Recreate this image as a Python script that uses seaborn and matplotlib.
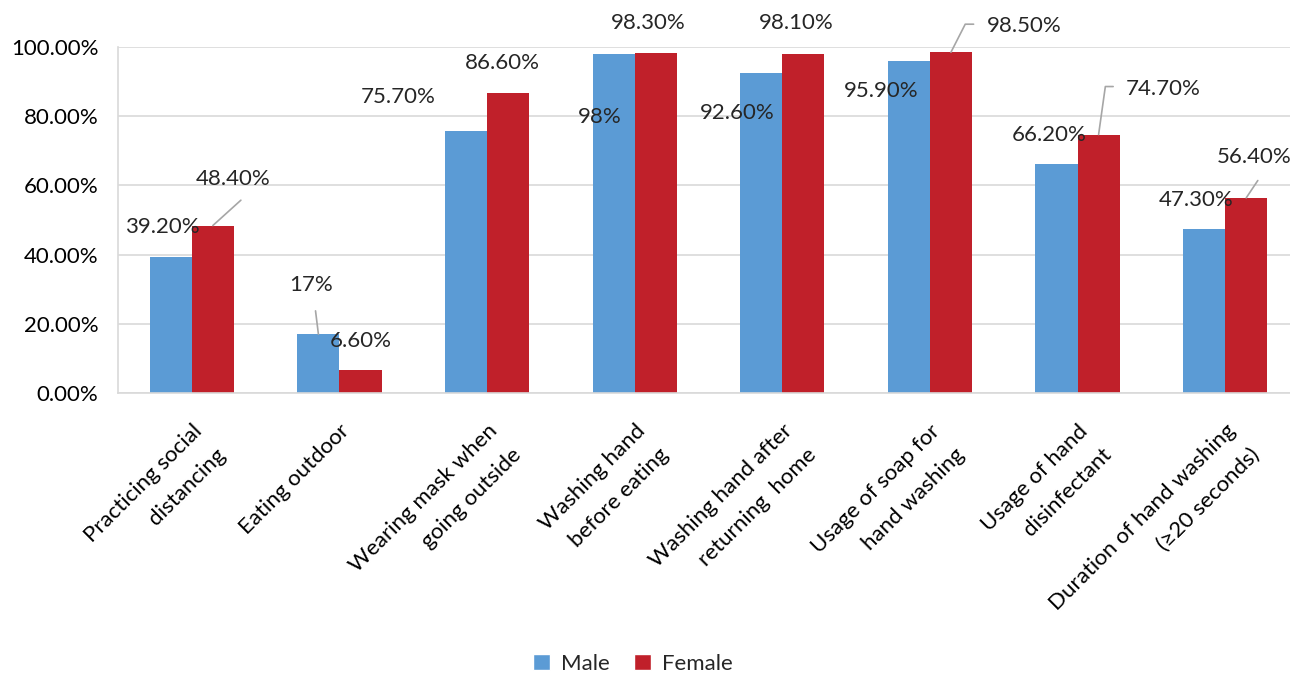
import matplotlib
matplotlib.use("Agg")
import matplotlib.pyplot as plt
import matplotlib.ticker as mticker
from matplotlib.patches import Patch
import pandas as pd
import seaborn as sns

CATEGORIES = [
    "Practicing social\ndistancing",
    "Eating outdoor",
    "Wearing mask when\ngoing outside",
    "Washing hand\nbefore eating",
    "Washing hand after\nreturning  home",
    "Usage of soap for\nhand washing",
    "Usage of hand\ndisinfectant",
    "Duration of hand washing\n(\u226520 seconds)",
]
MALE = [39.2, 17.0, 75.7, 98.0, 92.6, 95.9, 66.2, 47.3]
FEMALE = [48.4, 6.6, 86.6, 98.3, 98.1, 98.5, 74.7, 56.4]
MALE_LABELS = ["39.20%", "17%", "75.70%", "98%", "92.60%", "95.90%", "66.20%", "47.30%"]
FEMALE_LABELS = ["48.40%", "6.60%", "86.60%", "98.30%", "98.10%", "98.50%", "74.70%", "56.40%"]

# label offsets (pixels, from bar top) as moved by hand in the original
MALE_OFF = [(-8, 30), (-7, 49), (-68, 34), (-14, -63), (-24, -40), (-28, -30), (-7, 29), (-8, 29)]
FEMALE_OFF = [(20, 47), (0, 29), (-6, 30), (-7, 30), (-7, 31), (73, 26), (65, 46), (8, 41)]
# leader lines: None, ("line", relpos, shrinkA) or ("elbow", angleB, shrinkA)
MALE_LEADER = [None, ("line", (0.55, 0), 9), None, None, None, None, None, None]
FEMALE_LEADER = [("line", (0.78, 0), 9), None, None, None, None,
                 ("elbow", 63, 7), ("elbow", 82, 7), ("line", (0.67, 0), 9)]

BLUE = "#5B9BD5"
RED = "#C0202A"
GRID = "#D9D9D9"
LEADER = "#A6A6A6"

sns.set_style("white")
plt.rcParams["font.family"] = ["Lato", "DejaVu Sans"]
FS = 16

df = pd.DataFrame({
    "cat": CATEGORIES * 2,
    "value": MALE + FEMALE,
    "sex": ["Male"] * len(MALE) + ["Female"] * len(FEMALE),
})

fig = plt.figure(figsize=(12.9, 6.73), dpi=100)
ax = fig.add_axes([118 / 1290, 280 / 673, 1181 / 1290, 346 / 673])
sns.barplot(data=df, x="cat", y="value", hue="sex", order=CATEGORIES,
            hue_order=["Male", "Female"], palette=[BLUE, RED],
            width=0.57, gap=0, saturation=1, linewidth=0, legend=False, ax=ax)
ax.set_xlim(-0.5, len(CATEGORIES) - 0.5)
ax.set_ylim(0, 100)
ax.set_yticks(range(0, 101, 20))
ax.yaxis.set_major_formatter(mticker.FuncFormatter(lambda v, _: f"{v:.2f}%"))
ax.grid(axis="y", color=GRID, linewidth=1.2)
ax.set_axisbelow(True)
for s in ["top", "right"]:
    ax.spines[s].set_visible(False)
for s in ["left", "bottom"]:
    ax.spines[s].set_color(GRID)
    ax.spines[s].set_linewidth(1.2)
ax.tick_params(axis="both", length=0, labelsize=FS, colors="black")
ax.tick_params(axis="y", pad=14)
ax.set_xlabel("")
ax.set_ylabel("")
ax.set_xticks(range(len(CATEGORIES)))
ax.set_xticklabels(CATEGORIES, rotation=45, ha="right", va="top",
                   rotation_mode="anchor", multialignment="right", fontsize=FS)
for t in ax.get_xticklabels():
    t.set_linespacing(1.85)
ax.tick_params(axis="x", pad=20)

for bars, labels, offs, leaders in [(ax.containers[0], MALE_LABELS, MALE_OFF, MALE_LEADER),
                                    (ax.containers[1], FEMALE_LABELS, FEMALE_OFF, FEMALE_LEADER)]:
    for bar, lab, (dx, dy), lead in zip(bars, labels, offs, leaders):
        x = bar.get_x() + bar.get_width() / 2
        y = bar.get_height()
        kw = {}
        if lead is not None and lead[0] == "line":
            kw["arrowprops"] = dict(arrowstyle="-", color=LEADER, lw=1.2,
                                    relpos=lead[1], shrinkA=lead[2], shrinkB=0)
        elif lead is not None:
            kw["arrowprops"] = dict(arrowstyle="-", color=LEADER, lw=1.2,
                                    connectionstyle=f"angle,angleA=0,angleB={lead[1]},rad=0",
                                    relpos=(0, 0.6), shrinkA=lead[2], shrinkB=0)
        ax.annotate(lab, xy=(x, y), xytext=(dx, dy), textcoords="offset pixels",
                    ha="center", va="center", fontsize=FS, annotation_clip=False, **kw)

handles = [Patch(facecolor=BLUE, label="Male"), Patch(facecolor=RED, label="Female")]
fig.legend(handles=handles, loc="center", bbox_to_anchor=(633 / 1290, 1 - 664 / 673),
           ncol=2, frameon=False, fontsize=FS, handlelength=0.75, handleheight=0.75,
           handletextpad=0.5, columnspacing=1.1)

fig.savefig("out.png", dpi=100)
